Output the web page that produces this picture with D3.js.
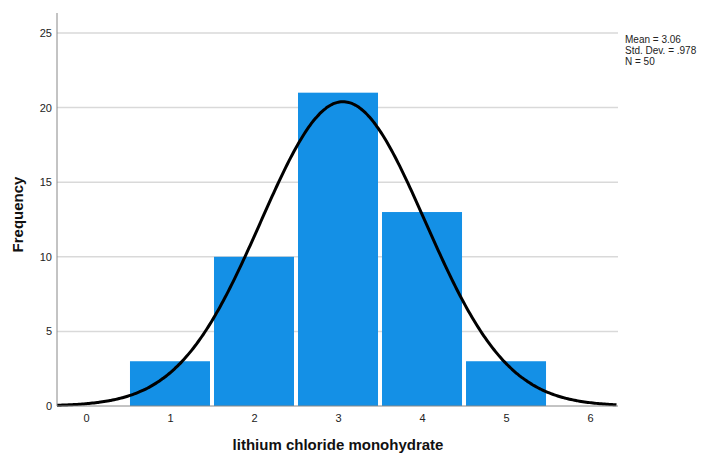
<!DOCTYPE html>
<html>
<head>
<meta charset="utf-8">
<script src="https://cdn.jsdelivr.net/npm/d3@7"></script>
<style>
  html, body { margin: 0; padding: 0; background: #fff; }
  svg { display: block; font-family: Arial, "Liberation Sans", sans-serif; }
</style>
</head>
<body>
<svg id="chart" width="702" height="455"></svg>
<script>
// Histogram bins (centre value) and their counts
const binCenters = [1, 2, 3, 4, 5];
const counts = [3, 10, 21, 13, 3];
const xTicks = [0, 1, 2, 3, 4, 5, 6];
const yTicks = [0, 5, 10, 15, 20, 25];
const statLines = ["Mean = 3.06", "Std. Dev. = .978", "N = 50"];
const mean = 3.06, sd = 0.978, n = 50, binWidth = 1;

const svg = d3.select("#chart");
const plotLeft = 57, plotRight = 618, plotTop = 13, plotBottom = 406;
const barGap = 2; // white gap on each side of a bar

const x = d3.scaleLinear().domain([-0.345, 6.333]).range([plotLeft, plotRight]);
const y = d3.scaleLinear().domain([0, 25]).range([plotBottom, 33]);

// gridlines
svg.append("g").selectAll("line").data(yTicks.filter(d => d > 0)).join("line")
  .attr("x1", plotLeft).attr("x2", plotRight)
  .attr("y1", d => y(d)).attr("y2", d => y(d))
  .attr("stroke", "#d9d9d9").attr("stroke-width", 1.5);

// bars
svg.append("g").selectAll("rect").data(binCenters).join("rect")
  .attr("x", d => x(d - binWidth / 2) + barGap)
  .attr("width", d => x(d + binWidth / 2) - x(d - binWidth / 2) - 2 * barGap)
  .attr("y", (d, i) => y(counts[i]))
  .attr("height", (d, i) => y(0) - y(counts[i]))
  .attr("fill", "#1490e6");

// normal curve scaled to the counts
const pdf = v => n * binWidth / (sd * Math.sqrt(2 * Math.PI)) * Math.exp(-0.5 * ((v - mean) / sd) ** 2);
const curveX = d3.range(x.domain()[0], x.domain()[1] + 0.001, 0.02);
svg.append("path")
  .datum(curveX)
  .attr("d", d3.line().x(v => x(v)).y(v => y(pdf(v))).curve(d3.curveBasis))
  .attr("fill", "none").attr("stroke", "#000").attr("stroke-width", 3);

// axes
const yAxis = svg.append("g").attr("transform", `translate(${plotLeft},0)`)
  .call(d3.axisLeft(y).tickValues(yTicks).tickFormat(d3.format("d")).tickSize(0).tickPadding(5));
yAxis.select(".domain").remove();
yAxis.selectAll("text").attr("font-size", 11).attr("fill", "#222");
svg.append("line").attr("x1", plotLeft).attr("x2", plotLeft).attr("y1", plotTop).attr("y2", plotBottom)
  .attr("stroke", "#888").attr("stroke-width", 1);

const xAxis = svg.append("g").attr("transform", `translate(0,${plotBottom})`)
  .call(d3.axisBottom(x).tickValues(xTicks).tickFormat(d3.format("d")).tickSize(0).tickPadding(8));
xAxis.select(".domain").remove();
xAxis.selectAll("text").attr("font-size", 11).attr("fill", "#222");
svg.append("line").attr("x1", plotLeft).attr("x2", plotRight).attr("y1", plotBottom).attr("y2", plotBottom)
  .attr("stroke", "#888").attr("stroke-width", 1);

// axis titles
svg.append("text").attr("x", x(3)).attr("y", 450).attr("text-anchor", "middle")
  .attr("font-size", 15).attr("font-weight", "bold").attr("fill", "#111")
  .text("lithium chloride monohydrate");
svg.append("text").attr("transform", `translate(23,${(plotTop + plotBottom) / 2 + 5}) rotate(-90)`)
  .attr("text-anchor", "middle")
  .attr("font-size", 15).attr("font-weight", "bold").attr("fill", "#111")
  .text("Frequency");

// statistics box
svg.append("g").selectAll("text").data(statLines).join("text")
  .attr("x", 625).attr("y", (d, i) => 43 + i * 11)
  .attr("font-size", 10).attr("fill", "#222")
  .text(d => d);
</script>
</body>
</html>
